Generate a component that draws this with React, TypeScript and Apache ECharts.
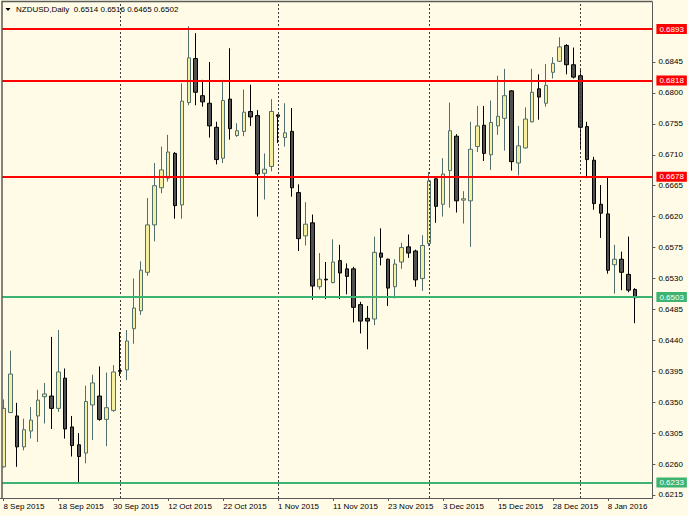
import React, { useEffect, useRef } from "react";
import * as echarts from "echarts";

const SYMBOL = "NZDUSD";
const PERIOD = "Daily";

const DATES = [
  "8 Sep 2015", "9 Sep 2015", "10 Sep 2015", "11 Sep 2015", "14 Sep 2015", "15 Sep 2015", "16 Sep 2015", "17 Sep 2015",
  "18 Sep 2015", "21 Sep 2015", "22 Sep 2015", "23 Sep 2015", "24 Sep 2015", "25 Sep 2015", "28 Sep 2015", "29 Sep 2015",
  "30 Sep 2015", "1 Oct 2015", "2 Oct 2015", "5 Oct 2015", "6 Oct 2015", "7 Oct 2015", "8 Oct 2015", "9 Oct 2015",
  "12 Oct 2015", "13 Oct 2015", "14 Oct 2015", "15 Oct 2015", "16 Oct 2015", "19 Oct 2015", "20 Oct 2015", "21 Oct 2015",
  "22 Oct 2015", "23 Oct 2015", "25 Oct 2015", "26 Oct 2015", "27 Oct 2015", "28 Oct 2015", "29 Oct 2015", "30 Oct 2015",
  "1 Nov 2015", "2 Nov 2015", "3 Nov 2015", "4 Nov 2015", "5 Nov 2015", "6 Nov 2015", "9 Nov 2015", "10 Nov 2015",
  "11 Nov 2015", "12 Nov 2015", "13 Nov 2015", "16 Nov 2015", "17 Nov 2015", "18 Nov 2015", "19 Nov 2015", "20 Nov 2015",
  "23 Nov 2015", "24 Nov 2015", "25 Nov 2015", "26 Nov 2015", "27 Nov 2015", "30 Nov 2015", "1 Dec 2015", "2 Dec 2015",
  "3 Dec 2015", "4 Dec 2015", "7 Dec 2015", "8 Dec 2015", "9 Dec 2015", "10 Dec 2015", "11 Dec 2015", "14 Dec 2015",
  "15 Dec 2015", "16 Dec 2015", "17 Dec 2015", "18 Dec 2015", "21 Dec 2015", "22 Dec 2015", "23 Dec 2015", "24 Dec 2015",
  "28 Dec 2015", "29 Dec 2015", "30 Dec 2015", "31 Dec 2015", "4 Jan 2016", "5 Jan 2016", "6 Jan 2016", "7 Jan 2016",
  "8 Jan 2016", "11 Jan 2016", "12 Jan 2016", "13 Jan 2016", "14 Jan 2016",
];

const OPEN = [
  0.6256, 0.6335, 0.6330, 0.6285, 0.6308, 0.6330, 0.6358, 0.6359, 0.6341, 0.6385,
  0.6314, 0.6288, 0.6276, 0.6346, 0.6359, 0.6325, 0.6338, 0.6396, 0.6397, 0.6457,
  0.6483, 0.6539, 0.6608, 0.6662, 0.6676, 0.6712, 0.6637, 0.6786, 0.6850, 0.6796,
  0.6785, 0.6750, 0.6705, 0.6791, 0.6738, 0.6744, 0.6773, 0.6767, 0.6683, 0.6693,
  0.6768, 0.6735, 0.6744, 0.6655, 0.6592, 0.6611, 0.6518, 0.6529, 0.6524, 0.6556,
  0.6544, 0.6544, 0.6492, 0.6472, 0.6471, 0.6567, 0.6558, 0.6518, 0.6554, 0.6576,
  0.6570, 0.6530, 0.6581, 0.6675, 0.6638, 0.6687, 0.6737, 0.6644, 0.6643, 0.6722,
  0.6753, 0.6710, 0.6752, 0.6763, 0.6803, 0.6698, 0.6720, 0.6758, 0.6806, 0.6785,
  0.6830, 0.6846, 0.6869, 0.6841, 0.6825, 0.6751, 0.6702, 0.6638, 0.6624, 0.6550,
  0.6558, 0.6536, 0.6514,
];

const HIGH = [
  0.6354, 0.6425, 0.6349, 0.6326, 0.6343, 0.6368, 0.6378, 0.6445, 0.6455, 0.6399,
  0.6330, 0.6305, 0.6374, 0.6390, 0.6402, 0.6393, 0.6404, 0.6452, 0.6455, 0.6530,
  0.6555, 0.6647, 0.6698, 0.6722, 0.6739, 0.6714, 0.6814, 0.6897, 0.6887, 0.6819,
  0.6845, 0.6758, 0.6819, 0.6865, 0.6756, 0.6805, 0.6812, 0.6775, 0.6712, 0.6791,
  0.6769, 0.6785, 0.6778, 0.6667, 0.6641, 0.6623, 0.6567, 0.6554, 0.6587, 0.6579,
  0.6552, 0.6547, 0.6496, 0.6490, 0.6591, 0.6603, 0.6559, 0.6558, 0.6582, 0.6594,
  0.6572, 0.6593, 0.6685, 0.6678, 0.6705, 0.6786, 0.6740, 0.6657, 0.6758, 0.6781,
  0.6781, 0.6789, 0.6825, 0.6835, 0.6804, 0.6752, 0.6779, 0.6835, 0.6827, 0.6842,
  0.6852, 0.6881, 0.6871, 0.6866, 0.6833, 0.6758, 0.6707, 0.6666, 0.6678, 0.6579,
  0.6569, 0.6591, 0.6516,
];

const LOW = [
  0.6255, 0.6334, 0.6256, 0.6280, 0.6297, 0.6292, 0.6319, 0.6311, 0.6336, 0.6297,
  0.6271, 0.6233, 0.6261, 0.6295, 0.6323, 0.6286, 0.6336, 0.6388, 0.6382, 0.6435,
  0.6477, 0.6534, 0.6584, 0.6654, 0.6671, 0.6617, 0.6617, 0.6782, 0.6782, 0.6780,
  0.6735, 0.6696, 0.6698, 0.6732, 0.6736, 0.6737, 0.6752, 0.6620, 0.6645, 0.6686,
  0.6727, 0.6722, 0.6649, 0.6570, 0.6578, 0.6499, 0.6514, 0.6500, 0.6523, 0.6500,
  0.6507, 0.6466, 0.6450, 0.6427, 0.6462, 0.6549, 0.6490, 0.6501, 0.6544, 0.6560,
  0.6518, 0.6512, 0.6577, 0.6611, 0.6620, 0.6633, 0.6626, 0.6610, 0.6576, 0.6714,
  0.6701, 0.6688, 0.6739, 0.6716, 0.6687, 0.6680, 0.6719, 0.6757, 0.6761, 0.6780,
  0.6821, 0.6845, 0.6827, 0.6821, 0.6718, 0.6676, 0.6630, 0.6589, 0.6537, 0.6508,
  0.6513, 0.6510, 0.6465,
];

const CLOSE = [
  0.6341, 0.6391, 0.6285, 0.6310, 0.6324, 0.6353, 0.6362, 0.6341, 0.6394, 0.6311,
  0.6287, 0.6271, 0.6351, 0.6378, 0.6325, 0.6342, 0.6394, 0.6395, 0.6439, 0.6487,
  0.6542, 0.6608, 0.6665, 0.6688, 0.6714, 0.6636, 0.6788, 0.6851, 0.6801, 0.6787,
  0.6752, 0.6703, 0.6789, 0.6748, 0.6745, 0.6772, 0.6765, 0.6682, 0.6689, 0.6773,
  0.6766, 0.6742, 0.6662, 0.6588, 0.6609, 0.6519, 0.6529, 0.6528, 0.6554, 0.6538,
  0.6533, 0.6488, 0.6468, 0.6468, 0.6568, 0.6561, 0.6516, 0.6551, 0.6575, 0.6567,
  0.6528, 0.6578, 0.6672, 0.6635, 0.6682, 0.6745, 0.6643, 0.6646, 0.6718, 0.6752,
  0.6712, 0.6757, 0.6766, 0.6796, 0.6700, 0.6723, 0.6762, 0.6801, 0.6794, 0.6811,
  0.6843, 0.6867, 0.6841, 0.6823, 0.6750, 0.6703, 0.6639, 0.6625, 0.6542, 0.6558,
  0.6539, 0.6513, 0.6502,
];

const PRICE_TICKS = [
  0.6215, 0.626, 0.6305, 0.635, 0.6395, 0.644, 0.6485, 0.653, 0.6575, 0.662,
  0.6665, 0.671, 0.6755, 0.68, 0.6845,
];
const RESISTANCE_LEVELS = [0.6893, 0.6818, 0.6678];
const SUPPORT_LEVELS = [0.6503, 0.6233];
const MONTH_STARTS = ["1 Oct 2015", "1 Nov 2015", "1 Dec 2015", "4 Jan 2016"];

const Y_MIN = 0.62106;
const Y_MAX = 0.69323;

export default function App() {
  const ref = useRef<HTMLDivElement>(null);

  useEffect(() => {
    const el = ref.current;
    if (!el) return;
    const chart = echarts.init(el, null, { renderer: "svg" });

    const BG = "#fffbe6";
    const FONT = "'Liberation Sans', Arial, sans-serif";
    const RED = "#ff0000";
    const GREEN = "#3cb371";
    const FRAME = "#5a5a5a";

    const cats = [...DATES, "", ""];
    const data = OPEN.map((o, i) => [o, CLOSE[i], LOW[i], HIGH[i]]);
    const n = OPEN.length - 1;
    const header = `${SYMBOL},${PERIOD}  ${OPEN[n].toFixed(4)} ${HIGH[n].toFixed(4)} ${LOW[n].toFixed(4)} ${CLOSE[n].toFixed(4)}`;

    const hLine = (v: number, color: string) => ({
      yAxis: v,
      lineStyle: { color, width: 2, type: "solid" },
      label: {
        show: true,
        position: "end",
        distance: 4,
        formatter: v.toFixed(4),
        backgroundColor: color,
        color: "#ffffff",
        padding: [1, 3, 0, 3],
        fontSize: 8,
        lineHeight: 9,
        fontFamily: FONT,
      },
    });

    chart.setOption({
      animation: false,
      backgroundColor: BG,
      textStyle: { fontFamily: FONT },
      grid: { left: -0.7375, right: 35.61, top: 2, bottom: 18, containLabel: false },
      xAxis: {
        type: "category",
        data: cats,
        boundaryGap: true,
        axisLine: { show: true, lineStyle: { color: FRAME, width: 1 } },
        axisTick: { show: true, interval: 7, alignWithLabel: true, length: 3, lineStyle: { color: FRAME } },
        axisLabel: {
          show: true,
          interval: 7,
          align: "left",
          margin: 4,
          fontSize: 8,
          color: "#000000",
          fontFamily: FONT,
        },
        splitLine: { show: false },
      },
      yAxis: {
        type: "value",
        position: "right",
        min: Y_MIN,
        max: Y_MAX,
        axisLine: { show: true, lineStyle: { color: FRAME, width: 1 } },
        axisTick: { show: true, customValues: PRICE_TICKS, length: 3, lineStyle: { color: FRAME } },
        axisLabel: {
          show: true,
          customValues: PRICE_TICKS,
          formatter: (v: number) => v.toFixed(4),
          margin: 6,
          fontSize: 8,
          color: "#000000",
          fontFamily: FONT,
        },
        splitLine: { show: false },
      },
      series: [
        {
          type: "line",
          data: [],
          silent: true,
          z: 1,
          markLine: {
            silent: true,
            symbol: "none",
            precision: 4,
            label: { show: false },
            lineStyle: { color: "#3a3a3a", width: 1, type: [2, 2] },
            data: MONTH_STARTS.map((d) => ({ xAxis: d })),
          },
        },
        {
          type: "candlestick",
          z: 3,
          silent: true,
          data,
          barWidth: 4,
          itemStyle: {
            color: "#f4f0a0",
            color0: "#505050",
            borderColor: "#4f6f6f",
            borderColor0: "#000000",
            borderWidth: 1,
          },
        },
        {
          type: "line",
          data: [],
          silent: true,
          z: 5,
          markLine: {
            silent: true,
            symbol: "none",
            precision: 4,
            data: [
              ...RESISTANCE_LEVELS.map((v) => hLine(v, RED)),
              ...SUPPORT_LEVELS.map((v) => hLine(v, GREEN)),
            ],
          },
        },
      ],
      graphic: [
        {
          type: "rect",
          z: 20,
          shape: { x: 0, y: 0, width: 2, height: 498 },
          style: { fill: BG },
          silent: true,
        },
        {
          type: "polyline",
          z: 21,
          shape: { points: [[2, 498], [2, 1.5], [652.4, 1.5]] },
          style: { stroke: FRAME, lineWidth: 1.5, fill: null },
          silent: true,
        },
        {
          type: "polygon",
          z: 21,
          shape: { points: [[5.5, 8], [10.5, 8], [8, 11]] },
          style: { fill: "#000000" },
          silent: true,
        },
        {
          type: "text",
          z: 21,
          x: 16,
          y: 9,
          style: {
            text: header,
            fill: "#000000",
            font: `8px ${FONT}`,
            verticalAlign: "middle",
            align: "left",
          },
          silent: true,
        },
      ],
    });

    return () => chart.dispose();
  }, []);

  return (
    <div
      ref={ref}
      style={{ position: "absolute", left: 0, top: 0, width: 688, height: 516 }}
    />
  );
}
